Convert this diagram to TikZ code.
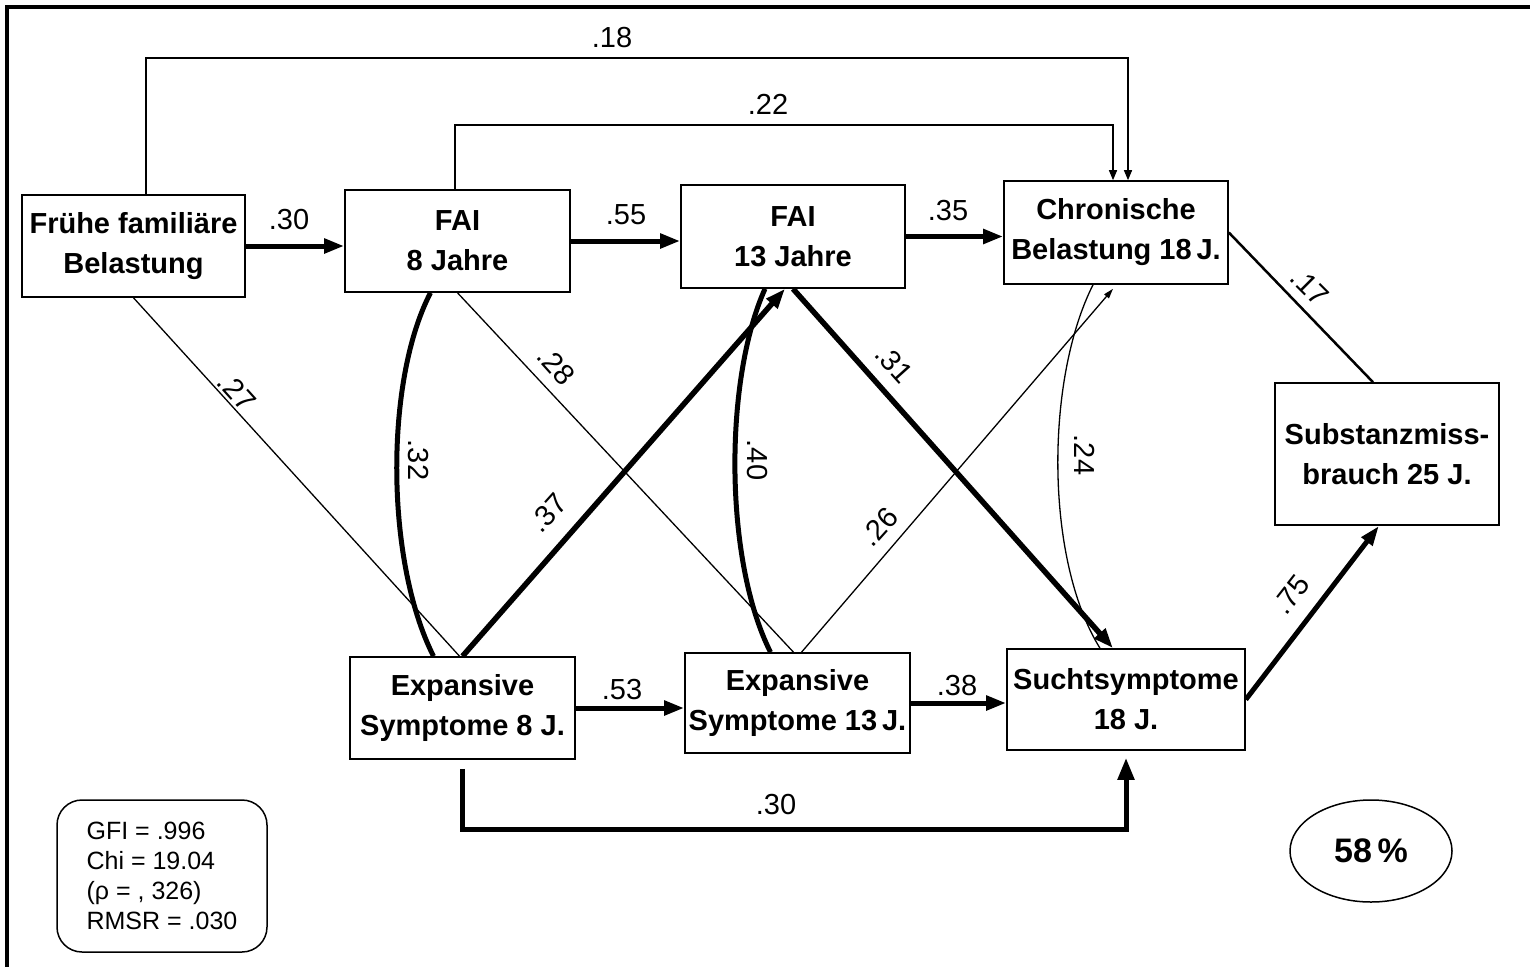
\documentclass[tikz,border=0pt]{standalone}
\usepackage{fontspec}
\setmainfont{Liberation Sans}
\usetikzlibrary{arrows.meta,shapes.geometric}
\begin{document}
\begin{tikzpicture}[x=1pt,y=-1pt,
  box/.style={draw,line width=1.6pt,inner sep=0pt,align=center,font=\bfseries\fontsize{29}{40}\selectfont},
  lbl/.style={inner sep=0pt,font=\fontsize{29}{30}\selectfont},
  heavy/.style={line width=5pt,-{Triangle[length=20pt,width=14pt]}},
  midline/.style={line width=2.5pt},
  thinarr/.style={line width=1.3pt,-{Triangle[length=10pt,width=8pt]}},
  thinline/.style={line width=1.3pt},
]
\useasboundingbox (0,0) rectangle (1530,966);
\fill[white] (0,0) rectangle (1530,966);
\draw[line width=4pt] (7,980) -- (7,7) -- (1545,7);

% boxes
\node[box,minimum width=223pt,minimum height=102pt] (fruehe) at (133.5,246) {Frühe familiäre\\Belastung};
\node[box,minimum width=225pt,minimum height=102pt] (fai8) at (457.5,241) {FAI\\8 Jahre};
\node[box,minimum width=224pt,minimum height=103pt] (fai13) at (793,236.5) {FAI\\13 Jahre};
\node[box,minimum width=224pt,minimum height=103pt] (chron) at (1116,232.5) {Chronische\\Belastung 18\,J.};
\node[box,minimum width=224pt,minimum height=142pt] (subst) at (1387,454) {Substanzmiss-\\brauch 25 J.};
\node[box,minimum width=225pt,minimum height=102pt] (exp8) at (462.5,708) {Expansive\\Symptome 8 J.};
\node[box,minimum width=225pt,minimum height=100pt] (exp13) at (797.5,703) {Expansive\\Symptome 13\,J.};
\node[box,minimum width=238pt,minimum height=101pt] (sucht) at (1126,699.5) {Suchtsymptome\\18 J.};

\node[draw,rounded corners=25pt,line width=1.5pt,minimum width=210pt,minimum height=152pt,inner sep=0pt,align=left,font=\fontsize{25}{30}\selectfont] (stats) at (162,876) {GFI = .996\\Chi = 19.04\\(ρ = , 326)\\RMSR = .030};
\node[draw,ellipse,line width=1.5pt,minimum width=162pt,minimum height=102pt,inner sep=0pt,font=\bfseries\fontsize{34}{34}\selectfont] (pct) at (1371,851) {58\,\%};

% horizontal heavy arrows
\draw[heavy] (fruehe.east) -- (fruehe.east -| fai8.west);
\draw[heavy] (fai8.east) -- (fai8.east -| fai13.west);
\draw[heavy] (fai13.east) -- (fai13.east -| chron.west);
\draw[heavy] (exp8.east) -- (exp8.east -| exp13.west);
\draw[heavy] (exp13.east) -- (exp13.east -| sucht.west);

% top routed arrows
\coordinate (c18a) at (146,58);
\coordinate (c18b) at (1128,58);
\draw[thinarr] ([xshift=12.5pt]fruehe.north) -- (c18a) -- (c18b) -- (c18b |- chron.north);
\coordinate (c22a) at (455,125);
\coordinate (c22b) at (1113,125);
\draw[thinarr] ([xshift=-2.5pt]fai8.north) -- (c22a) -- (c22b) -- (c22b |- chron.north);

% diagonals
\draw[midline] (chron.east) -- ([xshift=-14pt]subst.north);
\draw[line width=5pt,-{Triangle[length=20pt,width=13pt]}] (sucht.east) -- ([xshift=-8pt]subst.south);
\draw[thinline] (fruehe.south) -- ([xshift=-3pt]exp8.north);
\draw[thinline] (fai8.south) -- ([xshift=-4pt]exp13.north);
\draw[line width=5.5pt,-{Triangle[length=20pt,width=14pt]}] (exp8.north) -- ([xshift=-8pt]fai13.south);
\draw[line width=5.5pt,-{Triangle[length=20pt,width=14pt]}] (fai13.south) -- ([xshift=-13pt]sucht.north);
\draw[line width=1.3pt,-{Triangle[length=10pt,width=6pt]}] ([xshift=4pt]exp13.north) -- ([xshift=-3pt,yshift=-4pt]chron.south);

% correlation curves
\draw[line width=5pt] ([xshift=-27pt]fai8.south) .. controls (385,380) and (385,560) .. ([xshift=-29pt]exp8.north);
\draw[line width=5pt] ([xshift=-28pt]fai13.south) .. controls (724,380) and (724,560) .. ([xshift=-27pt]exp13.north);
\draw[thinline] ([xshift=-23pt]chron.south) .. controls (1045,380) and (1045,560) .. ([xshift=-26pt]sucht.north);

% bottom routed arrow
\draw[line width=5pt,shorten <=9pt,shorten >=7pt,-{Triangle[length=22pt,width=16pt]}] (exp8.south) -- ++(0,70) -| (sucht.south);

% labels
\node[lbl] (l18) at (612,38) {.18};
\node[lbl] (l22) at (768,104) {.22};
\node[lbl] (l30a) at (289,220) {.30};
\node[lbl] (l55) at (626,215) {.55};
\node[lbl] (l35) at (948,211) {.35};
\node[lbl,rotate=-45] (l17) at (1310,287) {.17};
\node[lbl,rotate=-48] (l27) at (237,392) {.27};
\node[lbl,rotate=-48] (l28) at (556,366) {.28};
\node[lbl,rotate=-90] (l32) at (418,460) {.32};
\node[lbl,rotate=48] (l37) at (548,513) {.37};
\node[lbl,rotate=-90] (l40) at (757,460) {.40};
\node[lbl,rotate=-48] (l31) at (894,364) {.31};
\node[lbl,rotate=48] (l26) at (879,527) {.26};
\node[lbl,rotate=-90] (l24) at (1085,455) {.24};
\node[lbl] (l53) at (622,690) {.53};
\node[lbl] (l38) at (957,686) {.38};
\node[lbl,rotate=52] (l75) at (1291,595) {.75};
\node[lbl] (l30b) at (776,805) {.30};
\end{tikzpicture}
\end{document}
